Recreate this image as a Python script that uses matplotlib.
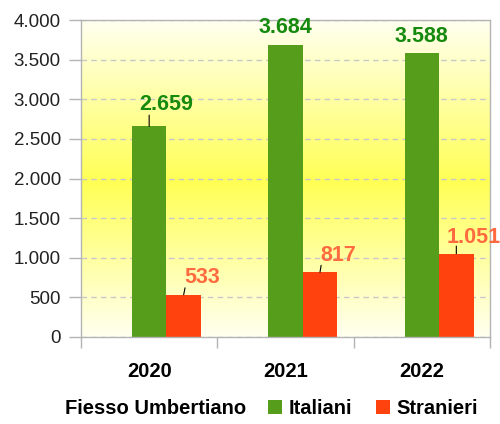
import matplotlib
matplotlib.use("Agg")
import matplotlib.pyplot as plt
from matplotlib.patches import Patch
from matplotlib.colors import LinearSegmentedColormap
from matplotlib.ticker import FuncFormatter, FixedLocator
import numpy as np

plt.rcParams['font.family'] = ['Liberation Sans', 'DejaVu Sans']

# data
anni = ["2020", "2021", "2022"]
italiani = [2659, 3684, 3588]
stranieri = [533, 817, 1051]
comune = "Fiesso Umbertiano"

# label offsets in points (dx, dy of text baseline from bar top), leader line end
off_ita = [(12.6, 11.5), (0, 8.6), (0, 8)]
lead_ita = [(0, 8), None, None]
off_str = [(13.5, 8.6), (13.2, 8), (12.2, 8)]
lead_str = [(1, 5), (0.8, 5), (0, 5.5)]

verde = "#579d1c"
arancio = "#ff420e"
verde_txt = "#168a0e"
arancio_txt = "#ff6b40"

fig = plt.figure(figsize=(5, 4.24), dpi=100)
ax = fig.add_axes([0.162, 0.2052, 0.818, 0.7476])

x = np.arange(len(anni))
w = 0.253
ax.set_xlim(-0.5, 2.5)
ax.set_ylim(0, 4000)

# sfondo sfumato
cmap = LinearSegmentedColormap.from_list("bg", [(0, "#fffff0"), (0.49, "#ffff55"), (1, "#fffff0")])
grad = np.linspace(0, 1, 256).reshape(-1, 1)
ax.imshow(grad, cmap=cmap, aspect="auto", extent=(-0.5, 2.5, 0, 4000), origin="lower", zorder=0)

ax.set_yticks(np.arange(0, 4001, 500))
ax.yaxis.set_major_formatter(FuncFormatter(lambda v, p: f"{int(v):,}".replace(",", ".")))
ax.grid(axis="y", color="#c8c8c8", linestyle=(0, (4, 3)), linewidth=1, zorder=1)

b1 = ax.bar(x, italiani, w, color=verde, zorder=2)
b2 = ax.bar(x + w, stranieri, w, color=arancio, zorder=2)

for i in range(len(anni)):
    xi, yi = x[i], italiani[i]
    ax.annotate(f"{yi:,}".replace(",", "."), (xi, yi), xytext=off_ita[i], textcoords="offset points",
                ha="center", va="baseline", fontsize=15.5, fontweight="bold", color=verde_txt,
                annotation_clip=False)
    if lead_ita[i]:
        ax.annotate("", (xi, yi), xytext=lead_ita[i], textcoords="offset points",
                    arrowprops=dict(arrowstyle="-", lw=0.8, color="black", shrinkA=0, shrinkB=0))
    xs, ys = x[i] + w, stranieri[i]
    ax.annotate(f"{ys:,}".replace(",", "."), (xs, ys), xytext=off_str[i], textcoords="offset points",
                ha="center", va="baseline", fontsize=15.5, fontweight="bold", color=arancio_txt,
                annotation_clip=False)
    if lead_str[i]:
        ax.annotate("", (xs, ys), xytext=lead_str[i], textcoords="offset points",
                    arrowprops=dict(arrowstyle="-", lw=0.8, color="black", shrinkA=0, shrinkB=0))

for s in ax.spines.values():
    s.set_color("#b3b3b3")
    s.set_linewidth(1)

ax.set_xticks(x)
ax.set_xticklabels(anni, fontsize=14.5, fontweight="bold")
ax.xaxis.set_minor_locator(FixedLocator([-0.5, 0.5, 1.5, 2.5]))
ax.tick_params(axis="x", which="major", length=0, pad=18)
ax.tick_params(axis="x", which="minor", length=8, width=1, color="#b3b3b3")
ax.tick_params(axis="y", length=8.5, width=1, color="#b3b3b3", labelsize=13.5, labelcolor="#222222", pad=6)

fig.text(0.13, 0.024, comune, fontsize=14.5, fontweight="bold", va="baseline", ha="left")
handles = [Patch(facecolor=verde, label="Italiani"), Patch(facecolor=arancio, label="Stranieri")]
fig.legend(handles=handles, loc="center left", bbox_to_anchor=(0.536, 0.0365), ncol=2, frameon=False,
           prop={"size": 14.5, "weight": "bold"}, handlelength=0.7, handleheight=0.7,
           handletextpad=0.3, columnspacing=1.2, borderpad=0, borderaxespad=0)

fig.savefig("out.png", dpi=100)
